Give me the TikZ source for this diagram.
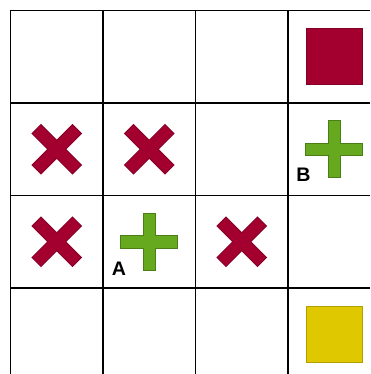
\documentclass[tikz,border=0pt]{standalone}
\usepackage{fontspec}
\setsansfont{Liberation Sans}
\usetikzlibrary{positioning}

\definecolor{goalred}{HTML}{A30030}
\definecolor{agentgreen}{HTML}{66A81E}
\definecolor{goalyellow}{HTML}{E0C800}

\begin{document}
\begin{tikzpicture}[
  x=0.5pt,y=-0.5pt,
  gridline/.style={line width=0.7pt,black},
  goalbox/.style={draw=#1!80!black,fill=#1,line width=0.5pt,
                  minimum size=28pt,inner sep=0pt},
  tag/.style={font=\sffamily\bfseries\fontsize{9.8}{11}\selectfont,inner sep=0pt},
  plus/.pic={
    \path[pic actions,line width=0.5pt]
      (-6.25,-28.5) -- (6.25,-28.5) -- (6.25,-6.25) -- (28.5,-6.25)
      -- (28.5,6.25) -- (6.25,6.25) -- (6.25,28.5) -- (-6.25,28.5)
      -- (-6.25,6.25) -- (-28.5,6.25) -- (-28.5,-6.25) -- (-6.25,-6.25) -- cycle;
  },
  good/.style={fill=agentgreen,draw=agentgreen!75!black},
  bad/.style={fill=goalred,draw=goalred!85!black,rotate=45},
]
\useasboundingbox (0,0) rectangle (370,374);

%% ===== Grid ==================================================================
\foreach \c in {1,...,4} {
  \foreach \r in {1,...,4} {
    \coordinate (c\c\r) at ({10.5+92.5*(\c-0.5)},{10.5+92.5*(\r-0.5)});
  }
}
\foreach \i in {0,...,3} {
  \draw[gridline] ({10.5+92.5*\i},10.5) -- ({10.5+92.5*\i},374);
  \draw[gridline] (10.5,{10.5+92.5*\i}) -- (370,{10.5+92.5*\i});
}

%% ===== Goals =================================================================
\node[goalbox=goalred]    (redgoal)    at (c41) {};
\node[goalbox=goalyellow] (yellowgoal) at (c44) {};

%% ===== Crosses ===============================================================
\pic[bad] (x12) at (c12) {plus};
\pic[bad] (x22) at (c22) {plus};
\pic[bad] (x13) at (c13) {plus};
\pic[bad] (x33) at (c33) {plus};

%% ===== Agents ================================================================
\pic[good] (agentA) at (c23) {plus};
\pic[good] (agentB) at (c42) {plus};

\node[tag] (labA) at (119,268.5) {A};
\node[tag] (labB) at (303.5,175) {B};

\end{tikzpicture}
\end{document}
